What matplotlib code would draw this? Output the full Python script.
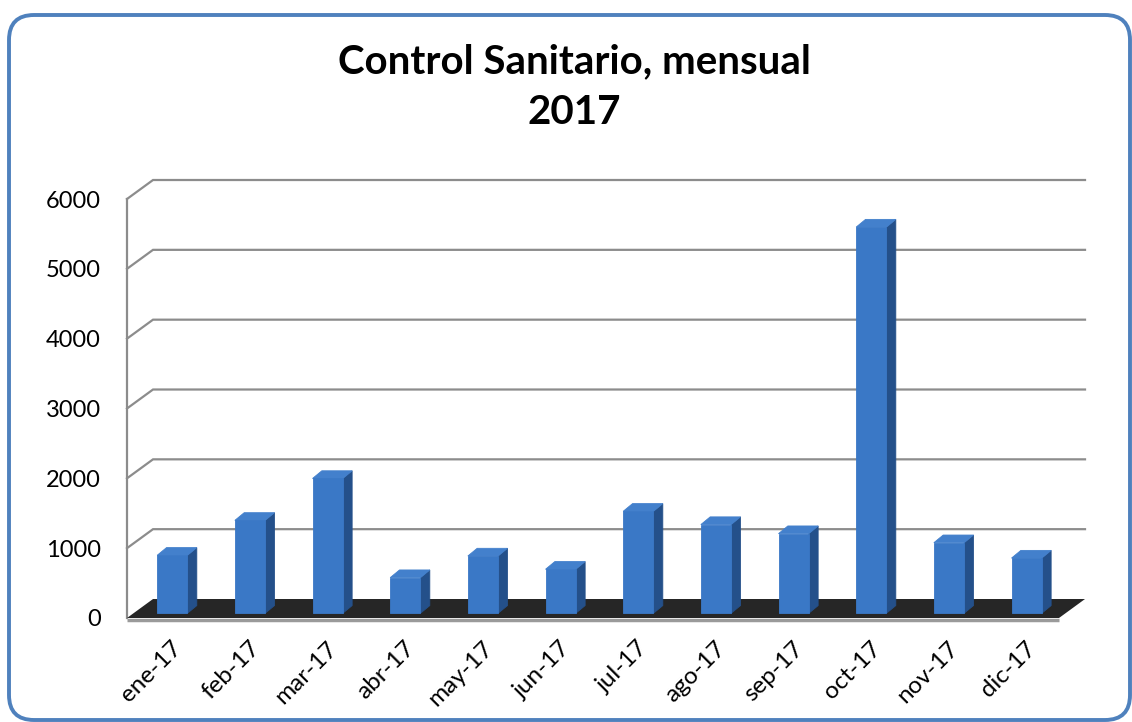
import matplotlib
matplotlib.use("Agg")
import matplotlib.pyplot as plt
from matplotlib.patches import Polygon, FancyBboxPatch
from matplotlib.transforms import IdentityTransform

plt.rcParams['font.family'] = ['Lato', 'DejaVu Sans']

# data
months = ["ene-17", "feb-17", "mar-17", "abr-17", "may-17", "jun-17",
          "jul-17", "ago-17", "sep-17", "oct-17", "nov-17", "dic-17"]
values = [830, 1330, 1930, 510, 820, 630, 1460, 1270, 1140, 5530, 1010, 790]
yticks = [0, 1000, 2000, 3000, 4000, 5000, 6000]

W, H = 1132, 722
fig = plt.figure(figsize=(W / 100, H / 100), dpi=100)
fig.patch.set_facecolor("white")

# front plane of the 3d box, in pixels
left, right, bottom, top = 127, 1059, 618, 199
ax = fig.add_axes([left / W, (H - bottom) / H, (right - left) / W, (bottom - top) / H])
ax.set_xlim(-0.5, len(months) - 0.5)
ax.set_ylim(0, 6000)
for s in ax.spines.values():
    s.set_visible(False)
ax.set_facecolor("none")

x0, x1 = -0.5, len(months) - 0.5
# depth of the box (data units)
dx, dy = 0.335, 272
grid_col = "#8c8c8c"

# gridlines: diagonal on the side wall then across the back wall
for v in yticks[1:]:
    ax.plot([x0, x0 + dx, x1 + dx], [v, v + dy, v + dy], color=grid_col, lw=1.6,
            clip_on=False, zorder=1, solid_joinstyle="miter")
# front left edge
ax.plot([x0, x0], [0, 6000], color=grid_col, lw=1.6, clip_on=False, zorder=1)

# floor
floor = Polygon([[x0, 0], [x0 + dx, dy], [x1 + dx, dy], [x1, 0]], closed=True,
                facecolor="#262626", edgecolor="none", clip_on=False, zorder=2)
ax.add_patch(floor)
ax.plot([x0, x1], [-25, -25], color="#9a9a9a", lw=2.5, clip_on=False, zorder=2,
        solid_capstyle="butt")

# bars
f0 = 0.25
bw = 0.39
bdx, bdy = 0.12, 110
base = f0 * dy
front_col, side_col, top_col = "#3a78c6", "#24508a", "#4380cc"
for i, v in enumerate(values):
    xl = i - bw / 2 + f0 * dx
    xr = xl + bw
    side = Polygon([[xr, base], [xr + bdx, base + bdy], [xr + bdx, base + v + bdy],
                    [xr, base + v]], closed=True, facecolor=side_col,
                   edgecolor=side_col, lw=0.6, clip_on=False, zorder=3)
    ax.add_patch(side)
    cap = Polygon([[xl, base + v], [xl + bdx, base + v + bdy], [xr + bdx, base + v + bdy],
                   [xr, base + v]], closed=True, facecolor=top_col,
                  edgecolor=top_col, lw=0.6, clip_on=False, zorder=3)
    ax.add_patch(cap)
    ax.bar(xl + bw / 2, v, width=bw, bottom=base, color=front_col,
           edgecolor=front_col, lw=0.6, clip_on=False, zorder=4)

ax.set_yticks(yticks)
ax.set_yticklabels([str(t) for t in yticks], fontsize=17)
ax.tick_params(axis="y", length=0, pad=19)
ax.set_xticks([i + 0.07 for i in range(len(months))])
ax.set_xticklabels(months, fontsize=17.5, rotation=45, ha="right",
                   rotation_mode="anchor")
ax.tick_params(axis="x", length=0, pad=14)

fig.text(574 / W, 1 - 62 / H, "Control Sanitario, mensual", fontsize=29,
         fontweight="bold", ha="center", va="center")
fig.text(574 / W, 1 - 112 / H, "2017", fontsize=29,
         fontweight="bold", ha="center", va="center")

# rounded chart border
border = FancyBboxPatch((9 + 25, 2 + 25), 1121 - 50, 705 - 50,
                        boxstyle="round,pad=25", transform=IdentityTransform(),
                        facecolor="none", edgecolor="#4f81bd", lw=2.8)
fig.patches.append(border)

fig.savefig("out.png", dpi=100)
